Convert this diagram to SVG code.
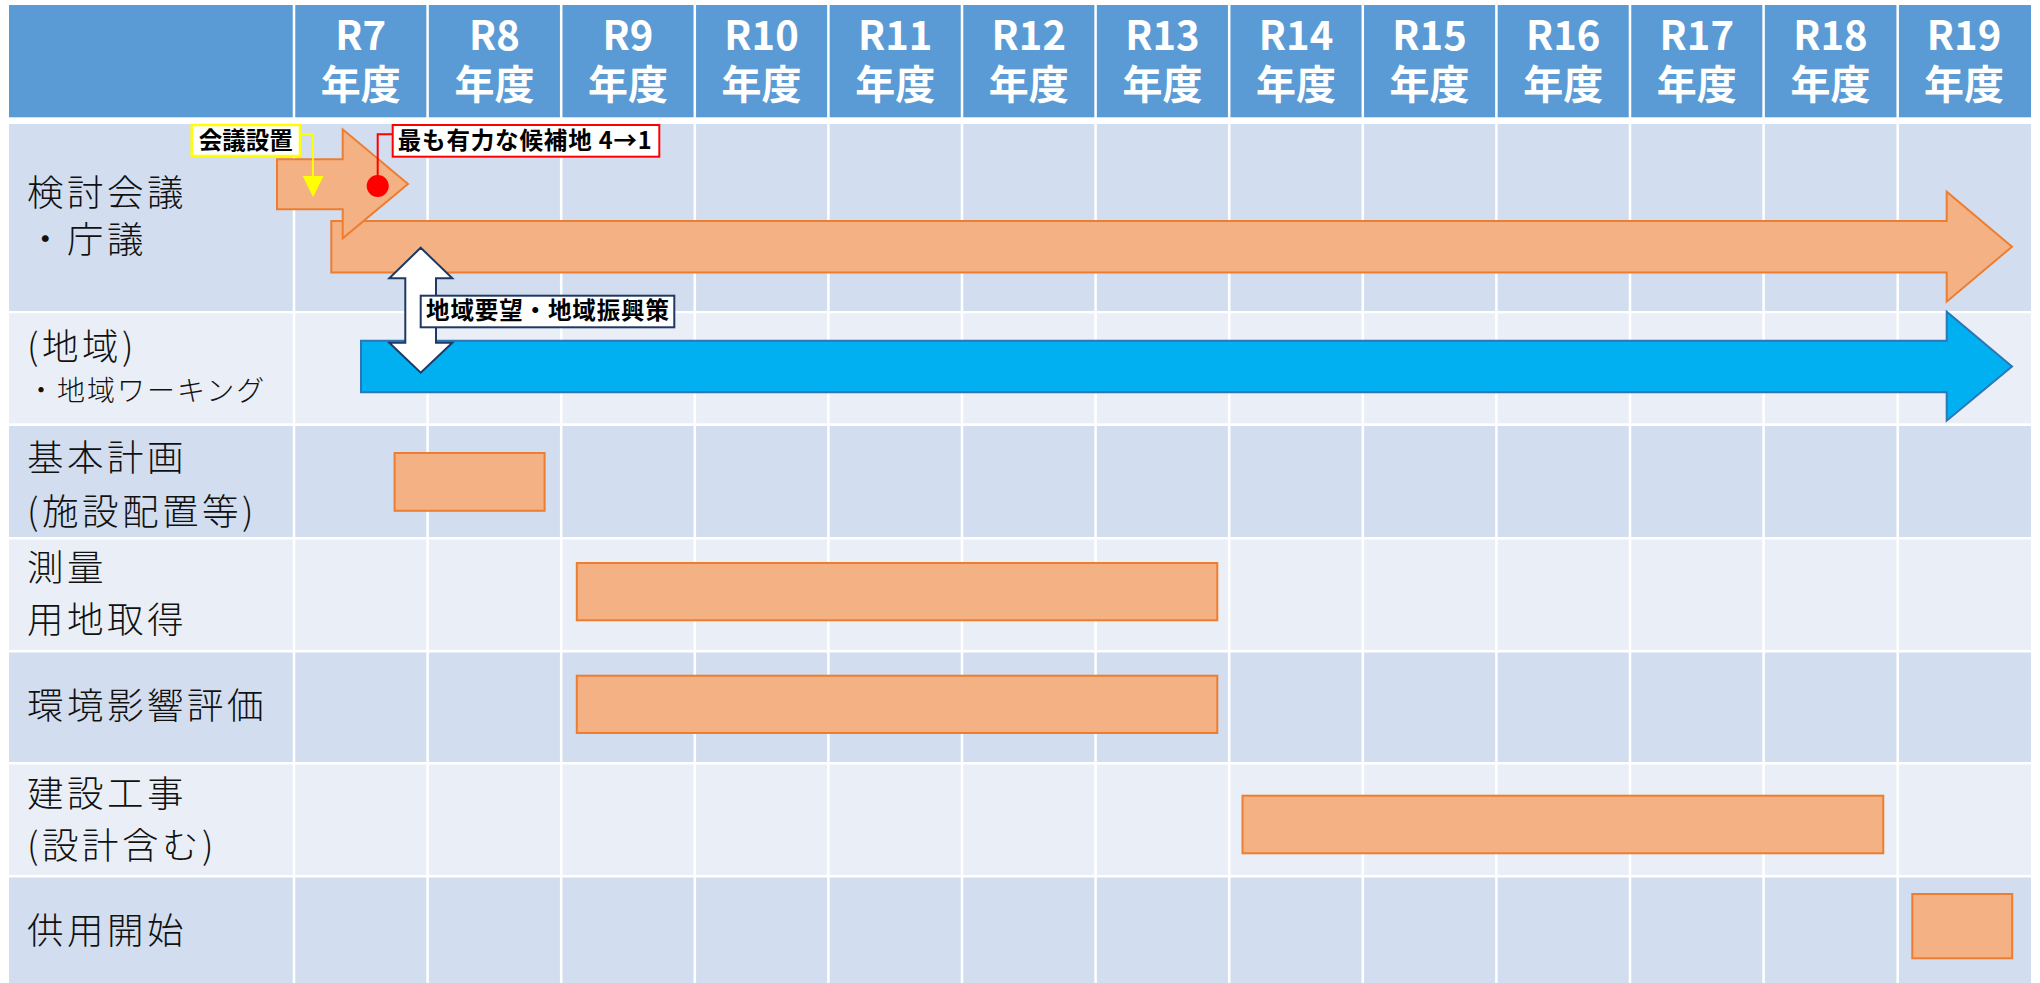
<svg xmlns="http://www.w3.org/2000/svg" width="2040" height="983" viewBox="0 0 2040 983">
<style>
.hdr{fill:#5b9bd5}
.dk{fill:#d2deef}
.lt{fill:#eaeff7}
.vl{stroke:#ffffff;stroke-width:2.5}
.ht{font-family:"Noto Sans CJK JP","Liberation Sans",sans-serif;font-weight:bold;font-size:40px;fill:#ffffff;text-anchor:middle}
.rl{font-family:"Noto Sans CJK JP",sans-serif;font-weight:300;font-size:36.5px;letter-spacing:3.5px;fill:#111111}
.rs{font-family:"Noto Sans CJK JP",sans-serif;font-weight:300;font-size:28px;letter-spacing:2px;fill:#111111}
.bar{fill:#f4b183;stroke:#ed7d31;stroke-width:2}
.lb{font-family:"Noto Sans CJK JP",sans-serif;font-weight:bold;font-size:23.5px;fill:#000000}
</style>
<rect x="0" y="0" width="2040" height="983" fill="#ffffff"/>
<g id="table">
<rect x="9" y="5" width="2022" height="112.3" class="hdr"/>
<rect x="9" y="124" width="2022" height="187" class="dk"/>
<rect x="9" y="313.3" width="2022" height="110" class="lt"/>
<rect x="9" y="426" width="2022" height="111" class="dk"/>
<rect x="9" y="539.5" width="2022" height="110.5" class="lt"/>
<rect x="9" y="652.5" width="2022" height="109.5" class="dk"/>
<rect x="9" y="764.5" width="2022" height="110.5" class="lt"/>
<rect x="9" y="877.5" width="2022" height="106" class="dk"/>
<g class="vl">
<line x1="294" y1="5" x2="294" y2="983"/>
<line x1="427.6" y1="5" x2="427.6" y2="983"/>
<line x1="561.2" y1="5" x2="561.2" y2="983"/>
<line x1="694.8" y1="5" x2="694.8" y2="983"/>
<line x1="828.4" y1="5" x2="828.4" y2="983"/>
<line x1="962" y1="5" x2="962" y2="983"/>
<line x1="1095.6" y1="5" x2="1095.6" y2="983"/>
<line x1="1229.2" y1="5" x2="1229.2" y2="983"/>
<line x1="1362.8" y1="5" x2="1362.8" y2="983"/>
<line x1="1496.4" y1="5" x2="1496.4" y2="983"/>
<line x1="1630" y1="5" x2="1630" y2="983"/>
<line x1="1763.6" y1="5" x2="1763.6" y2="983"/>
<line x1="1897.7" y1="5" x2="1897.7" y2="983"/>
</g>
</g>
<g id="header-labels">
<text class="ht"><tspan x="360.8" y="50">R7</tspan><tspan x="360.8" y="99">年度</tspan></text>
<text class="ht"><tspan x="494.4" y="50">R8</tspan><tspan x="494.4" y="99">年度</tspan></text>
<text class="ht"><tspan x="628" y="50">R9</tspan><tspan x="628" y="99">年度</tspan></text>
<text class="ht"><tspan x="761.6" y="50">R10</tspan><tspan x="761.6" y="99">年度</tspan></text>
<text class="ht"><tspan x="895.2" y="50">R11</tspan><tspan x="895.2" y="99">年度</tspan></text>
<text class="ht"><tspan x="1028.8" y="50">R12</tspan><tspan x="1028.8" y="99">年度</tspan></text>
<text class="ht"><tspan x="1162.4" y="50">R13</tspan><tspan x="1162.4" y="99">年度</tspan></text>
<text class="ht"><tspan x="1296" y="50">R14</tspan><tspan x="1296" y="99">年度</tspan></text>
<text class="ht"><tspan x="1429.6" y="50">R15</tspan><tspan x="1429.6" y="99">年度</tspan></text>
<text class="ht"><tspan x="1563.2" y="50">R16</tspan><tspan x="1563.2" y="99">年度</tspan></text>
<text class="ht"><tspan x="1696.8" y="50">R17</tspan><tspan x="1696.8" y="99">年度</tspan></text>
<text class="ht"><tspan x="1830.4" y="50">R18</tspan><tspan x="1830.4" y="99">年度</tspan></text>
<text class="ht"><tspan x="1964" y="50">R19</tspan><tspan x="1964" y="99">年度</tspan></text>
</g>
<g id="row-labels">
<text class="rl"><tspan x="27" y="205.5">検討会議</tspan><tspan x="27" y="253">・庁議</tspan></text>
<text class="rl" x="27" y="360">(地域)</text>
<text class="rs" x="27" y="401">・地域ワーキング</text>
<text class="rl"><tspan x="27" y="470.5">基本計画</tspan><tspan x="27" y="525">(施設配置等)</tspan></text>
<text class="rl"><tspan x="27" y="580.5">測量</tspan><tspan x="27" y="633">用地取得</tspan></text>
<text class="rl" x="27" y="719">環境影響評価</text>
<text class="rl"><tspan x="27" y="807">建設工事</tspan><tspan x="27" y="859">(設計含む)</tspan></text>
<text class="rl" x="27" y="944">供用開始</text>
</g>
<g id="bars">
<rect id="bar-kihon" class="bar" x="394.6" y="453" width="150" height="57.8"/>
<rect id="bar-sokuryo" class="bar" x="576.8" y="563" width="640.5" height="57.3"/>
<rect id="bar-kankyo" class="bar" x="576.8" y="675.7" width="640.5" height="57.3"/>
<rect id="bar-kensetsu" class="bar" x="1242.5" y="795.7" width="640.8" height="57.6"/>
<rect id="bar-kyoyo" class="bar" x="1912.3" y="894" width="99.9" height="64.3"/>
</g>
<g id="arrow-chogi">
<path class="bar" d="M331.3,221 H1946.7 V191.7 L2012,246.7 L1946.7,301.7 V272.5 H331.3 Z"/>
</g>
<g id="arrow-kento">
<path class="bar" d="M277,159.3 H342.7 V129.3 L408,184 L342.7,238.3 V209.3 H277 Z"/>
</g>
<g id="arrow-chiiki">
<path d="M361,340.7 H1946.7 V311.7 L2012,366.5 L1946.7,420.7 V392.3 H361 Z" fill="#00b0f0" stroke="#2e75b6" stroke-width="2"/>
</g>
<g id="connectors">
<path id="double-arrow" d="M420.7,247.7 L452.3,278.3 H436 V342.7 H452.3 L420.7,372.7 L389.3,342.7 H405.3 V278.3 H389.3 Z" fill="#ffffff" stroke="#203864" stroke-width="2"/>
<path d="M300,134.3 H312.9 V177" fill="none" stroke="#ffff00" stroke-width="2"/>
<polygon points="302.7,176 323.5,176 313.1,197.3" fill="#ffff00"/>
<path d="M392.3,134.3 H377.7 V186" fill="none" stroke="#ff0000" stroke-width="2"/>
<circle cx="377.7" cy="186" r="11" fill="#ff0000"/>
</g>
<g id="label-kaigi">
<rect x="191.7" y="125" width="108.3" height="31" fill="#ffffff" stroke="#ffff00" stroke-width="2.5"/>
<text class="lb" x="245.8" y="148.5" text-anchor="middle">会議設置</text>
</g>
<g id="label-kouho">
<rect x="392.7" y="125" width="266.6" height="31.7" fill="#ffffff" stroke="#ff0000" stroke-width="2"/>
<text class="lb" x="397.7" y="148.5" textLength="254" lengthAdjust="spacing">最も有力な候補地 4→1</text>
</g>
<g id="label-chiiki">
<rect x="420.7" y="295.7" width="253.6" height="31.6" fill="#ffffff" stroke="#203864" stroke-width="2"/>
<text class="lb" x="426" y="318.5" textLength="243" lengthAdjust="spacing">地域要望・地域振興策</text>
</g>
</svg>
